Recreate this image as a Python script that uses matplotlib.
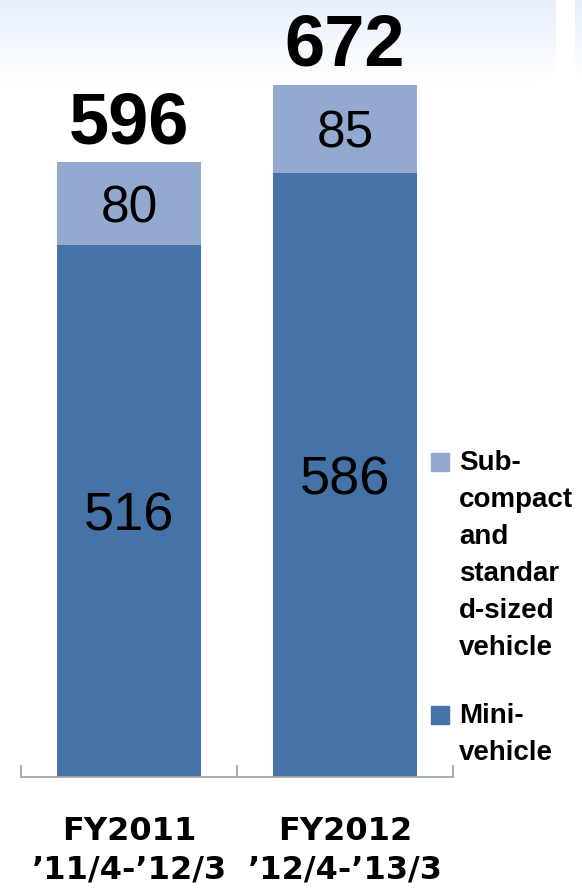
import numpy as np
import matplotlib.pyplot as plt
from matplotlib.colors import LinearSegmentedColormap
from matplotlib.patches import FancyBboxPatch, Rectangle

# Datos
periods = ['FY2011\n’11/4-’12/3', 'FY2012\n’12/4-’13/3']
mini = [516, 586]
compact = [80, 85]
totals = [596, 672]
legend_names = ['Sub-\ncompact\nand\nstandar\nd-sized\nvehicle', 'Mini-\nvehicle']

dark = '#4572A7'
light = '#93A9CF'
grey = '#A6A6A6'
W, H = 582, 890

fig = plt.figure(figsize=(W / 100, H / 100), dpi=100)

# fondo: recuadros con degradado arriba
bg = fig.add_axes([0, 0, 1, 1], zorder=-1)
bg.set_xlim(0, W)
bg.set_ylim(H, 0)
bg.axis('off')
cmap = LinearSegmentedColormap.from_list('g', ['#E8F0FC', '#FFFFFF'])
grad = np.linspace(0, 1, 100)[:, None]
for x0, x1 in [(-30, 556), (575, 640)]:
    im = bg.imshow(grad, extent=(x0, x1, 85, 0), cmap=cmap, aspect='auto')
    box = FancyBboxPatch((x0, -40), x1 - x0, 125, boxstyle='round,pad=0,rounding_size=28',
                         fc='none', ec='none', transform=bg.transData)
    bg.add_patch(box)
    im.set_clip_path(box)

ax = fig.add_axes([21 / W, 1 - 777 / H, 432 / W, 763 / H])
x = np.arange(len(periods))
ax.bar(x, mini, 0.67, color=dark, zorder=2)
ax.bar(x, compact, 0.67, bottom=mini, color=light, zorder=2)
ax.set_xlim(-0.5, 1.5)
ax.set_ylim(0, 740)
ax.patch.set_alpha(0)

for s in ['top', 'left', 'right']:
    ax.spines[s].set_visible(False)
ax.spines['bottom'].set_color(grey)
ax.spines['bottom'].set_linewidth(1.3)
ax.set_yticks([])
ax.set_xticks(x, periods)
ax.set_xticks([-0.5, 0.5, 1.5], minor=True)
ax.tick_params(axis='x', which='major', length=0, pad=28)
ax.tick_params(axis='x', which='minor', direction='in', length=8.6, width=1.3, color=grey)
for lab in ax.get_xticklabels():
    lab.set_fontsize(23)
    lab.set_fontweight('bold')
    lab.set_family('DejaVu Sans')
    lab.set_linespacing(1.3)

num_font = 'Liberation Sans'
for i in range(len(x)):
    ax.annotate(str(mini[i]), (x[i], mini[i] / 2), xytext=(0, -14), textcoords='offset points',
                ha='center', va='baseline', fontsize=39, family=num_font)
    ax.annotate(str(compact[i]), (x[i], mini[i] + compact[i] / 2), xytext=(0, -13.3),
                textcoords='offset points', ha='center', va='baseline', fontsize=37, family=num_font)
    top = mini[i] + compact[i]
    ax.annotate(str(totals[i]), (x[i], top), xytext=(0, 14), textcoords='offset points',
                ha='center', va='baseline', fontsize=52, fontweight='bold', family=num_font)

# leyenda a mano
first_base = [470, 723]
for name, base, col in zip(legend_names, first_base, [light, dark]):
    fig.patches.append(Rectangle((431 / W, 1 - (base + 1) / H), 18 / W, 18 / H,
                                 transform=fig.transFigure, color=col))
    for j, line in enumerate(name.split('\n')):
        fig.text(459 / W, 1 - (base + 37 * j) / H, line, va='baseline', ha='left',
                 fontsize=20, fontweight='bold', family=num_font)

fig.savefig('out.png', dpi=100)
